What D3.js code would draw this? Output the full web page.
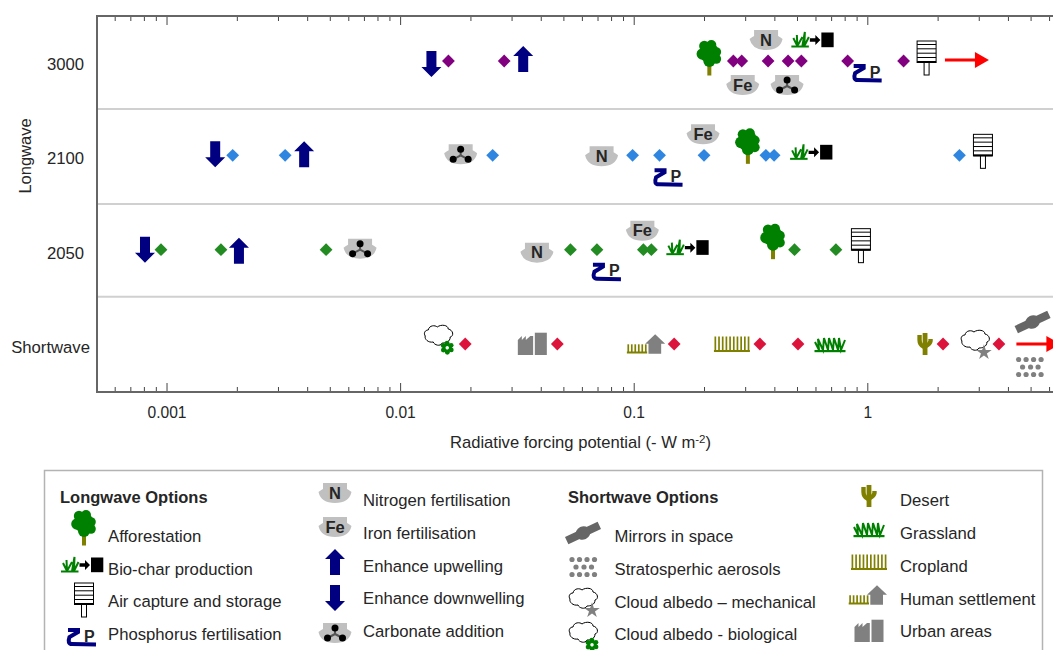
<!DOCTYPE html>
<html>
<head>
<meta charset="utf-8">
<script src="https://cdn.jsdelivr.net/npm/d3@7"></script>
<style>
  html, body { margin: 0; padding: 0; background: #fff; overflow: hidden; }
  text { font-family: "Liberation Sans", Arial, sans-serif; fill: #262626; }
</style>
</head>
<body>
<div id="chart"></div>
<script>
// rows of the chart
const rowNames = ["3000", "2100", "2050", "Shortwave"];

// radiative forcing potential (- W m-2), one array per row
const values3000 = [0.0161, 0.0279, 0.267, 0.29, 0.376, 0.458, 0.522, 0.824, 1.43];
const options3000 = ["down", "up", "tree", "fe", "n", "carbonate", "biochar", "p", "air"];

const values2100 = [0.00192, 0.00322, 0.0249, 0.0989, 0.129, 0.2, 0.368, 0.399, 2.48];
const options2100 = ["down", "up", "carbonate", "n", "p", "fe", "tree", "biochar", "air"];

const values2050 = [0.000947, 0.00171, 0.00482, 0.0536, 0.0696, 0.11, 0.119, 0.488, 0.734];
const options2050 = ["down", "up", "carbonate", "n", "p", "fe", "biochar", "tree", "air"];

const valuesShort = [0.019, 0.0471, 0.149, 0.347, 0.505, 2.11, 3.66];
const optionsShort = ["cloudBio", "urban", "settlement", "cropland", "grassland", "desert", "cloudMech"];

// options with no diamond: they run off the right of the axis
const offValues = [2.67, 5.1, 5.0, 5.4];
const offOptions = ["redArrow", "mirrors", "aerosols", "redArrow"];
const offRows = ["3000", "Shortwave", "Shortwave", "Shortwave"];

const majorTicks = [0.001, 0.01, 0.1, 1];
const tickLabels = ["0.001", "0.01", "0.1", "1"];

const legendTitles = ["Longwave Options", "Shortwave Options"];
const legendCol1 = ["Afforestation", "Bio-char production", "Air capture and storage", "Phosphorus fertilisation"];
const legendCol1Icons = ["tree", "biochar", "air", "p"];
const legendCol2 = ["Nitrogen fertilisation", "Iron fertilisation", "Enhance upwelling", "Enhance downwelling", "Carbonate addition"];
const legendCol2Icons = ["n", "fe", "up", "down", "carbonate"];
const legendCol3 = ["Mirrors in space", "Stratosperhic aerosols", "Cloud albedo \u2013 mechanical", "Cloud albedo - biological"];
const legendCol3Icons = ["mirrors", "aerosols", "cloudMech", "cloudBio"];
const legendCol4 = ["Desert", "Grassland", "Cropland", "Human settlement", "Urban areas"];
const legendCol4Icons = ["desert", "grassland", "cropland", "settlement", "urban"];

// layout and styling
const width = 1053, height = 650;
const frame = { left: 97, top: 16, bottom: 392 };
const rowColors = { "3000": "#800080", "2100": "#2f86e0", "2050": "#228b22", "Shortwave": "#dc143c" };
const axisColor = "#666";
const lineGrey = "#d0d0d0";

// where each icon sits relative to its diamond
const offsets3000 = [[-17, 3], [19, -2], [-24, -3], [1, 24], [-2, -21], [-1, 24], [11, -21], [19, 12], [23, -3]];
const offsets2100 = [[-17.5, -1], [19, -1], [-32, -1], [-31, 1], [8, 22], [-1, -21], [-18, -9], [37, -3], [23.5, -4]];
const offsets2050 = [[-16, 0], [18, 1], [34, -1], [-33.5, 3], [9, 22], [-1, -19], [36, -2], [-21.5, -8], [25, -4]];
const offsetsShort = [[-26, -4], [-25, 0], [-28, 0], [-28, 0], [32, 1], [-18, 0], [-23, 1]];
const offOffsets = [[0, -1], [0, -22], [0, 23], [0, 0]];

const svg = d3.select("#chart").append("svg")
    .attr("width", width)
    .attr("height", height)
    .style("display", "block");

// log scale runs past the edge of the window, like the original
const x = d3.scaleLog().domain([0.0005, 10]).range([96.2, 96.2 + 1004.7]);
const y = d3.scalePoint().domain(rowNames).range([61, 344]);
const sepY = d3.scaleLinear().domain([0, 3]).range([61, 344]);

// ---- icons, all drawn around (0,0) ----
const NAVY = "#000080", GREEN = "#008000", OLIVE = "#808000", GREY = "#808080", BOWL = "#c0c0c0";

function bowl(g) {
    g.append("path").attr("fill", BOWL)
        .attr("d", "M-12,-10 L12,-10 L12,-4 Q14,-3 16.5,-1 Q14,10 0,10 Q-14,10 -16.5,-1 Q-14,-3 -12,-4 Z");
}
function bowlText(g, t) {
    g.append("text").attr("text-anchor", "middle").attr("y", 5.5)
        .attr("font-weight", "bold").attr("font-size", 16.5).text(t);
}
function comb(g, x0, x1, top, base, n) {
    const teeth = d3.range(n).map(i => x0 + 1.4 + i * (x1 - x0 - 2.8) / (n - 1));
    g.selectAll(null).data(teeth).join("line")
        .attr("x1", d => d).attr("x2", d => d).attr("y1", top).attr("y2", base)
        .attr("stroke", OLIVE).attr("stroke-width", 1.7);
    g.append("rect").attr("x", x0).attr("y", base - 1).attr("width", x1 - x0).attr("height", 2).attr("fill", OLIVE);
}
function cloud(g) {
    g.append("path").attr("fill", "#fff").attr("stroke", "#000").attr("stroke-width", 1)
        .attr("d", "M-11,-10 C-10,-15 -4,-15 -2,-13 C2,-16 9,-15 9,-11 C14,-10 15,-4 11,-3 C11,2 6,3 3,3 C1,7 -5,5 -6,2 C-11,3 -15,-1 -14,-4 C-16,-7 -14,-10 -11,-10 Z");
}
function grassBlades(g, d, w) {
    g.append("path").attr("fill", "none").attr("stroke", GREEN).attr("stroke-width", w).attr("d", d);
}

const icons = {
    tree(g) {
        g.append("rect").attr("x", -2).attr("y", 6).attr("width", 4).attr("height", 11.5).attr("fill", OLIVE);
        g.selectAll(null).data([[-5, -12, 5.2], [2, -13, 5], [7, -6, 4.8], [-7, -4, 5.8], [7, 1, 4.8], [0, 3, 6], [0, -5, 10]])
            .join("circle").attr("cx", d => d[0]).attr("cy", d => d[1]).attr("r", d => d[2]).attr("fill", GREEN);
    },
    biochar(g) {
        grassBlades(g, "M-19,-2 L-15,6 L-15.5,-5 M-15,6 L-10,-3 M-10,6 L-7.5,-8 L-8,6 L-3.5,-3", 2);
        g.append("rect").attr("x", -21).attr("y", 5.5).attr("width", 17.5).attr("height", 2).attr("fill", GREEN);
        g.append("path").attr("fill", "#000").attr("d", "M-2.5,-1.7 L3,-1.7 L3,-5 L8,0 L3,5 L3,1.7 L-2.5,1.7 Z");
        g.append("rect").attr("x", 9).attr("y", -7.5).attr("width", 12.3).attr("height", 14.7).attr("fill", "#000");
    },
    air(g) {
        g.append("rect").attr("x", -2.5).attr("y", 4).attr("width", 5).attr("height", 13).attr("fill", "#fff").attr("stroke", "#000");
        g.append("rect").attr("x", -9.5).attr("y", -17).attr("width", 19).attr("height", 21.5).attr("fill", "#fff").attr("stroke", "#000");
        g.selectAll(null).data([-13.5, -9.2, -4.8, -0.5, 4]).join("line")
            .attr("x1", -9.5).attr("x2", 9.5).attr("y1", d => d).attr("y2", d => d)
            .attr("stroke", "#000").attr("stroke-width", d => d === 4 ? 2 : 1);
    },
    p(g) {
        g.append("path").attr("fill", "none").attr("stroke", NAVY).attr("stroke-width", 4)
            .attr("d", "M-13,-7 L-3,-7 L-3,-5 L-11.5,0 Q-14,7 -9,7 L15,7.5");
        g.append("text").attr("x", 3).attr("y", 4.5).attr("font-weight", "bold").attr("font-size", 16).text("P");
    },
    n(g) { bowl(g); bowlText(g, "N"); },
    fe(g) { bowl(g); bowlText(g, "Fe"); },
    up(g) {
        g.append("path").attr("fill", NAVY).attr("d", "M0,-13 L10,-3 L5,-3 L5,13 L-5,13 L-5,-3 L-10,-3 Z");
    },
    down(g) {
        g.append("path").attr("fill", NAVY).attr("d", "M0,13 L10,3 L5,3 L5,-13 L-5,-13 L-5,3 L-10,3 Z");
    },
    carbonate(g) {
        bowl(g);
        const dots = [[0, -5], [-7.5, 5], [7.5, 5]];
        g.selectAll(null).data(dots).join("line")
            .attr("x1", 0).attr("y1", 1).attr("x2", d => d[0]).attr("y2", d => d[1])
            .attr("stroke", "#555").attr("stroke-width", 2);
        g.selectAll(null).data(dots).join("circle")
            .attr("cx", d => d[0]).attr("cy", d => d[1]).attr("r", 3.5).attr("fill", "#000");
    },
    mirrors(g) {
        const m = g.append("g").attr("transform", "rotate(-25)");
        m.append("rect").attr("x", -18).attr("y", -4).attr("width", 36).attr("height", 8).attr("fill", "#666");
        m.append("ellipse").attr("rx", 7.5).attr("ry", 6.5).attr("fill", "#666");
    },
    aerosols(g) {
        const pts = [-12, -4.5, 3, 10.5].map(d => [d, -7.5])
            .concat([-8, 0, 7.5].map(d => [d, 0]))
            .concat([-12, -4.5, 3, 10.5].map(d => [d, 7.5]));
        g.selectAll(null).data(pts).join("circle")
            .attr("cx", d => d[0]).attr("cy", d => d[1]).attr("r", 2.6).attr("fill", GREY);
    },
    cloudMech(g) {
        cloud(g);
        g.append("path").attr("fill", "#808080").attr("transform", "translate(8,7.5)")
            .attr("d", d3.symbol().type(d3.symbolStar).size(75)());
    },
    cloudBio(g) {
        cloud(g);
        const f = g.append("g").attr("transform", "translate(8,7.7)");
        f.selectAll(null).data(d3.range(6)).join("circle")
            .attr("cx", d => 4.6 * Math.cos(d * Math.PI / 3 + 0.5))
            .attr("cy", d => 4.6 * Math.sin(d * Math.PI / 3 + 0.5))
            .attr("r", 2.4).attr("fill", GREEN);
        f.append("circle").attr("r", 3.2).attr("fill", "#fff").attr("stroke", GREEN).attr("stroke-width", 3);
    },
    desert(g) {
        g.append("rect").attr("x", -2.4).attr("y", -11).attr("width", 4.8).attr("height", 22).attr("fill", OLIVE);
        g.append("path").attr("fill", "none").attr("stroke", OLIVE).attr("stroke-width", 4.4)
            .attr("d", "M-5.5,-9 L-5.5,-4 Q-5.5,1 -1,3 M5.5,-5 L5.5,-3 Q5,0 1,2");
    },
    grassland(g) {
        grassBlades(g, "M-15,-3 L-11,5 L-12,-6 L-7,5 L-6,-7 L-2,5 L-1,-7 L3,5 L4,-7 L8,5 L9,-7 L11,5 L15,-5", 2);
        g.append("rect").attr("x", -15.5).attr("y", 5).attr("width", 31).attr("height", 2.2).attr("fill", GREEN);
    },
    cropland(g) { comb(g, -18, 18, -7.5, 7, 10); },
    settlement(g) {
        comb(g, -19.3, 1, 0.3, 8.5, 6);
        g.append("path").attr("fill", GREY).attr("d", "M9,-9.7 L19,-0.3 L15,-0.3 L15,9.7 L2.3,9.7 L2.3,-0.3 L-1,-0.3 Z");
    },
    urban(g) {
        g.append("path").attr("fill", GREY).attr("d", "M-14.5,11 L-14.5,-4 L-10.5,-8 L-10.5,-4 L-6.5,-8 L-6.5,-4 L-2,-8 L0.8,-8 L0.8,11 Z");
        g.append("rect").attr("x", 2.5).attr("y", -11.3).attr("width", 12).attr("height", 22.3).attr("fill", GREY);
    },
    redArrow(g) {
        g.append("rect").attr("x", -22).attr("y", -1.5).attr("width", 32).attr("height", 3).attr("fill", "#f00");
        g.append("path").attr("fill", "#f00").attr("d", "M8,-8 L22,0 L8,8 Z");
    }
};

function drawIcon(name, px, py) {
    const g = svg.append("g").attr("transform", `translate(${px},${py})`);
    icons[name](g);
}

// ---- frame, separators, axes ----
svg.selectAll(".sep").data([0.509, 1.516, 2.5]).join("line")
    .attr("class", "sep")
    .attr("x1", frame.left).attr("x2", width)
    .attr("y1", d => sepY(d)).attr("y2", d => sepY(d))
    .attr("stroke", lineGrey).attr("stroke-width", 2);

const minorTicks = x.ticks().filter(d => !majorTicks.includes(d) && d !== 10);

function tickAxis(orient, yPos, values, size) {
    svg.append("g")
        .attr("transform", `translate(0,${yPos})`)
        .call(orient(x).tickValues(values).tickSize(size).tickFormat(""))
        .call(g => g.select(".domain").remove())
        .call(g => g.selectAll("line").attr("stroke", "#444").attr("stroke-width", 1));
}
tickAxis(d3.axisTop, frame.bottom, majorTicks, 9);
tickAxis(d3.axisTop, frame.bottom, minorTicks, 5);
tickAxis(d3.axisBottom, frame.top, majorTicks, 9);
tickAxis(d3.axisBottom, frame.top, minorTicks, 5);

svg.append("path").attr("fill", "none").attr("stroke", axisColor).attr("stroke-width", 2)
    .attr("d", d3.line()([[width, frame.top], [frame.left, frame.top], [frame.left, frame.bottom], [width, frame.bottom]]));

// x tick labels
svg.append("g")
    .attr("transform", `translate(0,${frame.bottom})`)
    .call(d3.axisBottom(x).tickValues(majorTicks).tickSize(0).tickPadding(15)
        .tickFormat((d, i) => tickLabels[i]))
    .call(g => g.select(".domain").remove())
    .call(g => g.selectAll("text").attr("font-size", 15.6).attr("fill", "#262626").attr("font-family", null));

// y tick labels
svg.selectAll(".rowlabel").data(rowNames).join("text")
    .attr("class", "rowlabel")
    .attr("text-anchor", "end")
    .attr("x", d => d === "Shortwave" ? 90 : 84)
    .attr("y", d => y(d) + 9)
    .attr("font-size", 16.7)
    .text(d => d);

svg.append("text")
    .attr("transform", "translate(31,156) rotate(-90)")
    .attr("text-anchor", "middle")
    .attr("font-size", 16.5)
    .text("Longwave");

const xLabel = svg.append("text")
    .attr("x", 580.5).attr("y", 448)
    .attr("text-anchor", "middle")
    .attr("font-size", 16.6);
xLabel.append("tspan").text("Radiative forcing potential (- W m");
xLabel.append("tspan").attr("font-size", 11.5).attr("dy", -5).text("-2");
xLabel.append("tspan").attr("dy", 5).text(")");

// ---- data: icons first, diamonds on top ----
const rowData = [
    ["3000", values3000, options3000, offsets3000],
    ["2100", values2100, options2100, offsets2100],
    ["2050", values2050, options2050, offsets2050],
    ["Shortwave", valuesShort, optionsShort, offsetsShort]
];

const diamond = d3.symbol().type(d3.symbolSquare).size(82);

rowData.forEach(([row, values, options, offsets]) => {
    values.forEach((v, i) => drawIcon(options[i], x(v) + offsets[i][0], y(row) + offsets[i][1]));
    svg.append("g").selectAll("path").data(values).join("path")
        .attr("d", diamond)
        .attr("transform", d => `translate(${x(d)},${y(row)}) rotate(45)`)
        .attr("fill", rowColors[row]);
});

offValues.forEach((v, i) => drawIcon(offOptions[i], x(v) + offOffsets[i][0], y(offRows[i]) + offOffsets[i][1]));

// ---- legend ----
svg.append("rect")
    .attr("x", 44.5).attr("y", 470.5).attr("width", 998).attr("height", 200)
    .attr("fill", "none").attr("stroke", "#b3b3b3").attr("stroke-width", 1.5);

svg.selectAll(".legtitle").data(legendTitles).join("text")
    .attr("class", "legtitle")
    .attr("x", (d, i) => [60, 568][i])
    .attr("y", 503)
    .attr("font-weight", "bold")
    .attr("font-size", 16.5)
    .text(d => d);

const legendCols = [
    { labels: legendCol1, keys: legendCol1Icons, textX: 108, base: [542, 575, 607, 640], iconX: [84, 82, 84, 81], iconY: [528, 565, 600, 637] },
    { labels: legendCol2, keys: legendCol2Icons, textX: 363, base: [506, 539, 572, 604, 637], iconX: [335, 335, 335, 335, 335], iconY: [493, 527, 562, 598, 633] },
    { labels: legendCol3, keys: legendCol3Icons, textX: 614.5, base: [542, 575, 608, 640], iconX: [583, 584, 584, 584], iconY: [533, 567, 603, 637] },
    { labels: legendCol4, keys: legendCol4Icons, textX: 900, base: [506, 539, 572, 605, 637], iconX: [869, 869, 869, 868, 869], iconY: [496, 530, 562, 595, 631] }
];

legendCols.forEach(col => {
    col.keys.forEach((k, i) => drawIcon(k, col.iconX[i], col.iconY[i]));
    svg.append("g").selectAll("text").data(col.labels).join("text")
        .attr("x", col.textX)
        .attr("y", (d, i) => col.base[i])
        .attr("font-size", 16.7)
        .text(d => d);
});
</script>
</body>
</html>
